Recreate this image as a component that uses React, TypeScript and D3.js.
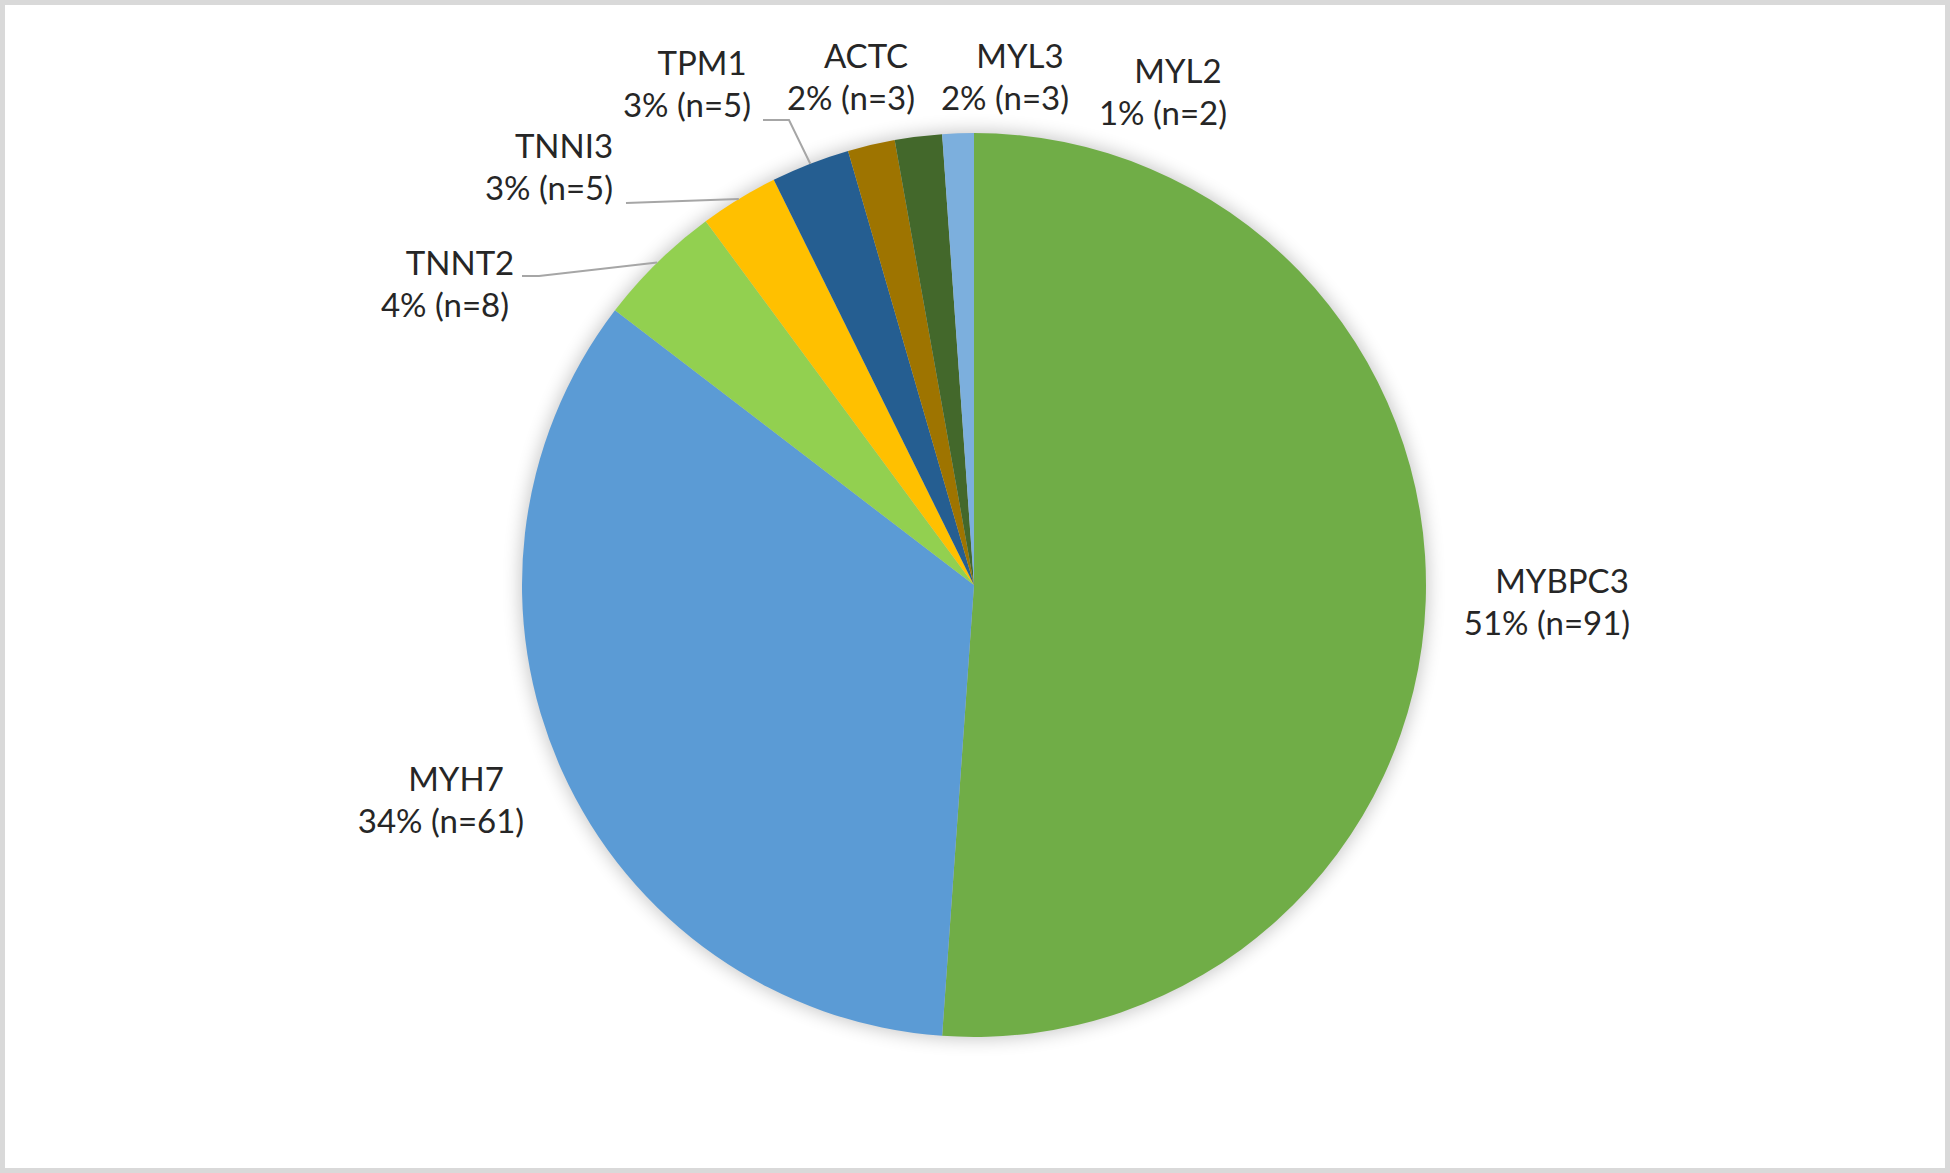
import React from "react";
import * as d3 from "d3";

const genes = ["MYBPC3", "MYH7", "TNNT2", "TNNI3", "TPM1", "ACTC", "MYL3", "MYL2"];
const counts = [91, 61, 8, 5, 5, 3, 3, 2];
const percentLabels = ["51%", "34%", "4%", "3%", "3%", "2%", "2%", "1%"];
const colors = ["#70AD47", "#5B9BD5", "#92D050", "#FFC000", "#255E91", "#9E7400", "#43682B", "#7CAFDD"];

// layout: label second-line centre & baseline, relative to pie centre
const labelPos: [number, number][] = [
  [573, 50],
  [-533, 248],
  [-529, -268],
  [-425, -385],
  [-287, -468],
  [-123, -475],
  [31, -475],
  [189, -460],
];
// leader lines: [start x, start y, elbow x] relative to centre (end = slice edge)
const leaders: (null | [number, number, number])[] = [
  null,
  null,
  [-452, -309, -435],
  [-348, -382, -348],
  [-211, -465, -185],
  null,
  null,
  null,
];

const W = 1950;
const H = 1173;
const CX = 974;
const CY = 585;
const R = 452;
const FONT = "Lato, 'Noto Sans', sans-serif";

export default function App() {
  const data = genes.map((g, i) => ({ gene: g, n: counts[i], pct: percentLabels[i], color: colors[i] }));
  const pie = d3.pie<any>().value((d) => d.n).sort(null);
  const arcs = pie(data);
  const arc = d3.arc<any>().innerRadius(0).outerRadius(R);

  return (
    <div style={{ position: "absolute", left: 0, top: 0, width: W, height: H }}>
      <svg width={W} height={H} style={{ display: "block" }}>
        <defs>
          <filter id="glow" x="-20%" y="-20%" width="140%" height="140%">
            <feGaussianBlur stdDeviation="9" />
          </filter>
        </defs>
        <rect x={0} y={0} width={W} height={H} fill="#ffffff" />
        <rect x={2.5} y={2.5} width={W - 5} height={H - 5} fill="none" stroke="#d9d9d9" stroke-width="5" strokeWidth={5} />
        <g transform={`translate(${CX},${CY})`}>
          <circle r={R + 2} fill="#000" opacity={0.22} filter="url(#glow)" />
          {arcs.map((a, i) => (
            <path key={i} d={arc(a) as string} fill={a.data.color} />
          ))}
          {arcs.map((a, i) => {
            const l = leaders[i];
            if (!l) return null;
            const mid = (a.startAngle + a.endAngle) / 2;
            const ex = R * Math.sin(mid);
            const ey = -R * Math.cos(mid);
            return (
              <polyline
                key={"l" + i}
                points={`${l[0]},${l[1]} ${l[2]},${l[1]} ${ex},${ey}`}
                fill="none"
                stroke="#a6a6a6"
                strokeWidth={2}
              />
            );
          })}
          {arcs.map((a, i) => {
            const [x, y] = labelPos[i];
            return (
              <g key={"t" + i} fontFamily={FONT} fontSize={33} fill="#262626">
                <text x={x + 15} y={y - 42} textAnchor="middle">
                  {a.data.gene}
                </text>
                <text x={x} y={y} textAnchor="middle">
                  {`${a.data.pct} (n=${a.data.n})`}
                </text>
              </g>
            );
          })}
        </g>
      </svg>
    </div>
  );
}
